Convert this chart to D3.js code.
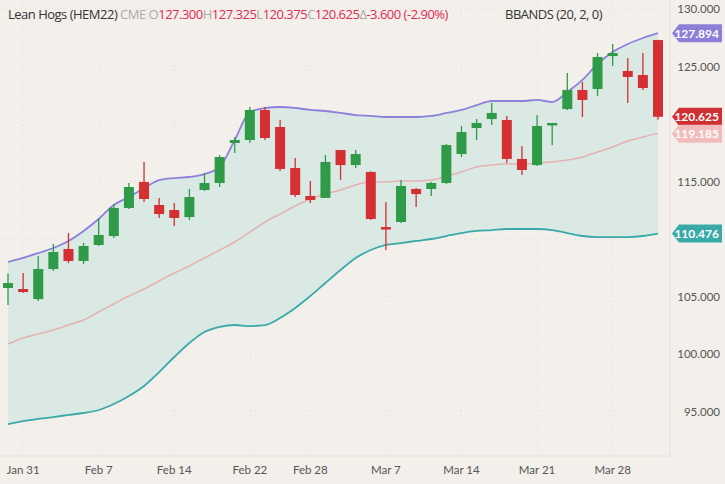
<!DOCTYPE html>
<html><head><meta charset="utf-8">
<script src="https://cdn.jsdelivr.net/npm/d3@7"></script>
<style>body{margin:0;background:#f3f0eb;}svg{display:block;font-family:Lato,"Noto Sans",sans-serif;}</style>
</head><body><svg id="c" width="725" height="484"></svg>
<script>
const dates=["Jan 28","Jan 31","Feb 1","Feb 2","Feb 3","Feb 4","Feb 7","Feb 8","Feb 9","Feb 10","Feb 11","Feb 14","Feb 15","Feb 16","Feb 17","Feb 18","Feb 22","Feb 23","Feb 24","Feb 25","Feb 28","Mar 1","Mar 2","Mar 3","Mar 4","Mar 7","Mar 8","Mar 9","Mar 10","Mar 11","Mar 14","Mar 15","Mar 16","Mar 17","Mar 18","Mar 21","Mar 22","Mar 23","Mar 24","Mar 25","Mar 28","Mar 29","Mar 30","Mar 31"];
const open=[105.74,105.65,104.78,107.39,109.13,108.09,109.48,110.26,112.7,114.96,112.96,112.52,111.91,114.26,114.87,118.35,118.61,121.22,119.74,116.17,113.74,113.57,117.74,116.43,115.83,111.04,111.48,114.35,114.35,114.87,117.39,119.65,120.43,120.35,116.96,116.43,119.91,121.3,122.96,123.04,125.91,124.61,124.26,127.3];
const high=[107.0,107.04,108.52,109.57,110.52,109.65,111.83,113.04,114.87,116.7,113.57,113.13,114.35,115.74,117.3,118.87,121.48,121.48,120.35,117.04,115.04,117.3,117.74,117.74,115.9,113.22,115.13,114.43,114.96,118.26,119.83,120.43,121.83,120.7,118.09,120.78,120.09,124.43,123.65,126.17,126.96,125.74,126.17,127.325];
const low=[104.26,105.3,104.61,107.22,107.91,107.83,109.39,110.09,112.61,113.22,111.83,111.13,111.65,114.17,114.52,117.48,118.35,118.61,115.91,113.65,113.13,113.57,115.13,116.17,111.65,109.04,111.39,112.78,113.74,114.78,117.13,118.61,119.91,116.61,115.57,116.35,118.17,121.22,120.61,122.43,125.04,121.83,122.96,120.375];
const close=[106.17,105.39,107.39,108.87,108.09,109.39,110.35,112.7,114.52,113.48,112.17,111.83,113.65,114.87,117.13,118.61,121.22,118.78,116.09,113.83,113.39,116.7,116.43,117.39,111.74,110.87,114.61,113.91,114.87,118.17,119.3,120.09,120.96,116.96,116.0,119.83,120.09,122.96,122.09,125.83,126.17,124.09,123.13,120.625];
const upper=[108.0,108.35,108.78,109.22,109.83,110.7,111.74,112.96,113.65,114.43,115.13,115.3,115.39,115.65,116.26,118.61,121.04,121.39,121.48,121.39,121.22,121.13,120.96,120.78,120.7,120.61,120.61,120.61,120.7,120.96,121.22,121.65,122.0,122.0,122.0,122.09,121.91,122.78,123.83,125.22,126.26,126.96,127.48,127.894];
const middle=[100.87,101.39,101.74,102.09,102.52,102.96,103.65,104.35,105.04,105.65,106.35,107.04,107.65,108.35,109.04,109.74,110.61,111.48,112.17,112.87,113.48,113.91,114.26,114.7,114.96,114.96,115.04,115.04,115.13,115.48,115.83,116.26,116.43,116.52,116.52,116.61,116.7,116.87,117.13,117.57,118.0,118.52,118.87,119.185];
const lower=[93.91,94.17,94.35,94.52,94.7,94.87,95.13,95.65,96.35,97.22,98.43,99.74,100.96,101.91,102.35,102.52,102.43,102.52,103.13,104.0,105.04,106.17,107.3,108.35,109.04,109.48,109.65,109.83,110.0,110.26,110.52,110.7,110.78,110.87,110.87,110.87,110.78,110.52,110.26,110.17,110.17,110.17,110.26,110.476];
const yTicks=[95,100,105,110,115,120,125,130];
const xLabels=["Jan 31","Feb 7","Feb 14","Feb 22","Feb 28","Mar 7","Mar 14","Mar 21","Mar 28"];

const svg=d3.select("#c");
const W=725,H=484,plotR=670,plotB=456;
svg.append("rect").attr("width",W).attr("height",H).attr("fill","#f3f0eb");
const x=d3.scalePoint().domain(dates).range([8,658]);
const y=d3.scaleLinear().domain([95,130]).range([411.5,9]);
const idx=d3.range(dates.length);
// grid
const g=svg.append("g");
g.selectAll(".hg").data(yTicks).join("line").attr("x1",0).attr("x2",plotR).attr("y1",d=>y(d)).attr("y2",d=>y(d)).attr("stroke","#e2ddd6").attr("stroke-dasharray","1,4");
g.selectAll(".vg").data(xLabels).join("line").attr("x1",d=>x(d)).attr("x2",d=>x(d)).attr("y1",0).attr("y2",plotB).attr("stroke","#e2ddd6").attr("stroke-dasharray","1,4");
svg.append("line").attr("x1",plotR).attr("x2",plotR).attr("y1",0).attr("y2",plotB).attr("stroke","#e4e0da");
svg.append("line").attr("x1",0).attr("x2",plotR).attr("y1",plotB).attr("y2",plotB).attr("stroke","#e4e0da");
// band fill
const area=d3.area().x(i=>x(dates[i])).y0(i=>y(lower[i])).y1(i=>y(upper[i])).curve(d3.curveMonotoneX);
svg.append("path").datum(idx).attr("d",area).attr("fill","#d5e7e2").attr("opacity",0.85);
const ln=arr=>d3.line().x(i=>x(dates[i])).y(i=>y(arr[i])).curve(d3.curveMonotoneX)(idx);
svg.append("path").attr("d",ln(middle)).attr("fill","none").attr("stroke","#e4b3b1").attr("stroke-width",1.5);
svg.append("path").attr("d",ln(upper)).attr("fill","none").attr("stroke","#8c80dc").attr("stroke-width",1.8);
svg.append("path").attr("d",ln(lower)).attr("fill","none").attr("stroke","#3aaaa8").attr("stroke-width",1.8);
// candles
const up="#2f9a47",dn="#d42f33",bw=10;
const c=svg.append("g").selectAll("g").data(idx).join("g");
c.append("line").attr("x1",i=>x(dates[i])).attr("x2",i=>x(dates[i])).attr("y1",i=>y(high[i])).attr("y2",i=>y(low[i])).attr("stroke",i=>close[i]>=open[i]?up:dn).attr("stroke-width",1.3);
c.append("rect").attr("x",i=>x(dates[i])-bw/2).attr("width",bw).attr("y",i=>y(Math.max(open[i],close[i]))).attr("height",i=>Math.max(2.5,Math.abs(y(open[i])-y(close[i])))).attr("fill",i=>close[i]>=open[i]?up:dn);
// y axis labels
svg.selectAll(".yt").data(yTicks.filter(d=>d!==120&&d!==110)).join("text").attr("x",720).attr("y",d=>y(d)+4).attr("text-anchor","end").attr("font-size",11.5).attr("fill","#555").text(d=>d.toFixed(3));
// x labels
svg.selectAll(".xt").data(xLabels).join("text").attr("x",d=>x(d)).attr("y",474).attr("text-anchor","middle").attr("font-size",11.5).attr("fill","#555").text(d=>d);
// tags
const tags=[[upper[43],"#8c7fd8","#fff"],[close[43],"#cf2e32","#fff"],[middle[43],"#f2bcbc","#fff"],[lower[43],"#3aaaa8","#fff"]];
tags.forEach(([v,bg,fg],k)=>{
  let cy=y(v); if(k==2) cy=Math.max(cy,y(close[43])+17);
  const x0=672;
  svg.append("path").attr("d",`M${x0},${cy} L${x0+7},${cy-9} L722,${cy-9} L722,${cy+9} L${x0+7},${cy+9} Z`).attr("fill",bg);
  svg.append("text").attr("x",719).attr("y",cy+4.5).attr("text-anchor","end").attr("font-size",12).attr("font-weight","bold").attr("fill",fg).text(v.toFixed(3));
});
// header
const hd=svg.append("text").attr("x",8).attr("y",19).attr("font-size",13).attr("font-family","'Open Sans',sans-serif").attr("letter-spacing",-0.5);
[["Lean Hogs (HEM22) ","#333"],["CME ","#aaa"],["O","#aaa"],["127.300","#e0294f"],["H","#aaa"],["127.325","#e0294f"],["L","#aaa"],["120.375","#e0294f"],["C","#aaa"],["120.625","#e0294f"],["Δ","#aaa"],["-3.600 (-2.90%)","#e0294f"]].forEach(([t,col])=>hd.append("tspan").attr("fill",col).text(t));
svg.append("text").attr("x",505).attr("y",19).attr("font-size",13).attr("font-family","'Open Sans',sans-serif").attr("letter-spacing",-0.5).attr("fill","#333").text("BBANDS (20, 2, 0)");
</script></body></html>
